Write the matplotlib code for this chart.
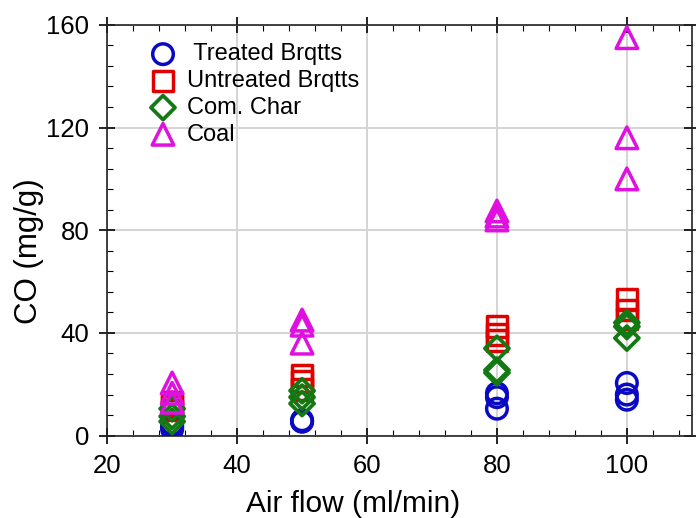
import matplotlib
matplotlib.use('Agg')
import matplotlib.pyplot as plt
from matplotlib.ticker import MultipleLocator

plt.rcParams['font.family'] = ['Liberation Sans', 'DejaVu Sans']

# air flow settings, three runs each
air_flow = [30, 30, 30, 50, 50, 50, 80, 80, 80, 100, 100, 100]

treated = [2.5, 3.5, 4.5, 5.5, 5.5, 6, 16.5, 15, 10.5, 20.5, 16, 14]
untreated = [13, 11.5, 10, 23.5, 21, 18, 42.5, 39.5, 37, 53, 49, 45.5]
com_char = [10.5, 7.5, 5.5, 17.5, 15, 12.5, 34, 25.5, 24.5, 44, 42.5, 38]
coal = [20.5, 16.5, 13, 45, 43, 36, 87.5, 85.5, 84, 155, 116, 100]

series_names = [' Treated Brqtts', 'Untreated Brqtts', 'Com. Char', 'Coal']

fig = plt.figure(figsize=(6.96, 5.18), dpi=100)
ax = fig.add_axes([0.154, 0.159, 0.840, 0.793])

ax.grid(True, color='#d4d4d4', linewidth=1.4, zorder=0)
ax.set_axisbelow(True)

style = dict(s=220, facecolors='none', linewidths=2.5, zorder=3)
ax.scatter(air_flow, treated, marker='o', edgecolors='#0a0ac4', label=series_names[0], **style)
ax.scatter(air_flow, untreated, marker='s', edgecolors='#e00000', label=series_names[1], **style)
ax.scatter(air_flow, com_char, marker='D', edgecolors='#137a13', label=series_names[2],
           s=150, facecolors='none', linewidths=2.7, zorder=3)
ax.scatter(air_flow, coal, marker='^', edgecolors='#e010e0', label=series_names[3],
           s=240, facecolors='none', linewidths=2.5, zorder=3)

ax.set_xlim(20, 110)
ax.set_ylim(0, 160)
ax.xaxis.set_major_locator(MultipleLocator(20))
ax.xaxis.set_minor_locator(MultipleLocator(4))
ax.yaxis.set_major_locator(MultipleLocator(40))
ax.yaxis.set_minor_locator(MultipleLocator(8))

ax.tick_params(which='major', direction='inout', length=12, width=1.2,
               top=True, right=True, labelsize=18.5, pad=7)
ax.tick_params(which='minor', direction='in', length=4, width=0.8,
               top=True, right=True)
for sp in ax.spines.values():
    sp.set_linewidth(1.2)
    sp.set_color('#222222')

# axis titles sit a little off-centre
ax.set_xlabel('Air flow (ml/min)', fontsize=21.5)
ax.xaxis.set_label_coords(0.421, -0.132)
ax.set_ylabel('CO (mg/g)', fontsize=22.5)
ax.yaxis.set_label_coords(-0.108, 0.449)

ax.legend(loc='upper left', bbox_to_anchor=(0.047, 0.978), frameon=False, fontsize=17,
          handlelength=1.6, handletextpad=0.2, labelspacing=0.2, borderaxespad=0)

fig.savefig('out.png', dpi=100)
